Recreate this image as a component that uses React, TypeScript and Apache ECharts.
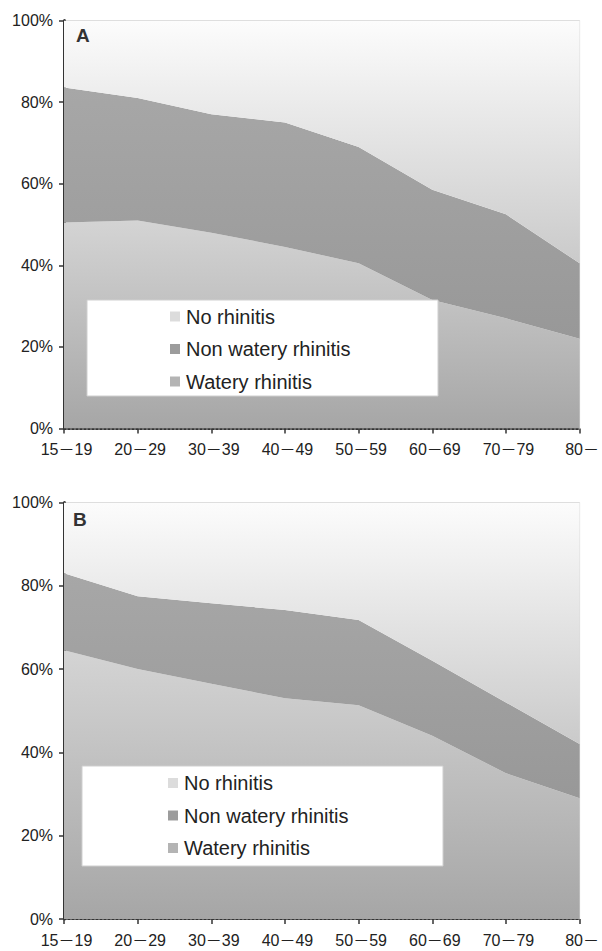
import React, { useEffect, useRef } from "react";
import * as echarts from "echarts";

const categories = ["15－19", "20－29", "30－39", "40－49", "50－59", "60－69", "70－79", "80－"];
const seriesNames = ["No rhinitis", "Non watery rhinitis", "Watery rhinitis"];
const yTicks = [0, 20, 40, 60, 80, 100];

// Chart A (stacked percentages)
const wateryA = [50.5, 51, 48, 44.5, 40.5, 31.5, 27, 22];
const nonWateryA = [33.1, 30, 29, 30.5, 28.5, 27, 25.5, 18.5];
const noRhinitisA = [16.4, 19, 23, 25, 31, 41.5, 47.5, 59.5];

// Chart B (stacked percentages)
const wateryB = [64.5, 60, 56.5, 53, 51.3, 44, 35, 29];
const nonWateryB = [18.5, 17.5, 19.3, 21.2, 20.5, 18, 17, 13];
const noRhinitisB = [17, 22.5, 24.2, 25.8, 28.2, 38, 48, 58];

const FONT = "'Liberation Sans', Arial, 'Noto Sans CJK JP', sans-serif";

const grad = (c1: string, c2: string) =>
  new echarts.graphic.LinearGradient(0, 0, 0, 1, [
    { offset: 0, color: c1 },
    { offset: 1, color: c2 },
  ]);

const fills = {
  "No rhinitis": () => grad("#fcfcfc", "#cacaca"),
  "Non watery rhinitis": () => grad("#a7a7a7", "#989898"),
  "Watery rhinitis": () => grad("#d4d4d4", "#a6a6a6"),
};
const iconColors: Record<string, string> = {
  "No rhinitis": "#dcdcdc",
  "Non watery rhinitis": "#9c9c9c",
  "Watery rhinitis": "#b4b4b4",
};

export default function App() {
  const ref = useRef<HTMLDivElement>(null);
  useEffect(() => {
    if (!ref.current) return;
    const chart = echarts.init(ref.current, undefined, { renderer: "svg" });

    const grids = [
      { left: 64, top: 20.5, width: 521, height: 408 },
      { left: 64, top: 502.5, width: 521, height: 416.5 },
    ];

    const mkX = (gi: number) => ({
      type: "category",
      gridIndex: gi,
      data: categories,
      boundaryGap: false,
      axisLine: { show: true, lineStyle: { color: "#333", width: 2, type: "dotted" } },
      axisTick: { show: true, alignWithLabel: true, length: 5, lineStyle: { color: "#333", width: 1.5 } },
      axisLabel: { color: "#222", fontSize: 16, fontFamily: FONT, margin: 13, interval: 0, padding: [0, 0, 0, 5] },
      splitLine: { show: false },
    });
    const mkY = (gi: number) => ({
      type: "value",
      gridIndex: gi,
      min: yTicks[0],
      max: yTicks[yTicks.length - 1],
      interval: 20,
      axisLine: { show: true, lineStyle: { color: "#333", width: 3 } },
      axisTick: { show: true, length: 5, lineStyle: { color: "#333", width: 1.5 } },
      axisLabel: { color: "#222", fontSize: 16, fontFamily: FONT, margin: 11, formatter: "{value}%" },
      splitLine: { show: false },
    });

    const mkSeries = (gi: number, stack: string, data: number[][]) =>
      seriesNames
        .slice()
        .reverse()
        .map((name, i) => ({
          name,
          type: "line",
          xAxisIndex: gi,
          yAxisIndex: gi,
          stack,
          data: data[i],
          symbol: "none",
          showSymbol: false,
          lineStyle: { width: 0 },
          itemStyle: { color: iconColors[name] },
          areaStyle: { color: (fills as any)[name](), opacity: 1 },
          z: 2,
        }));

    const mkLegend = (left: number, top: number) => ({
      orient: "vertical",
      left,
      top,
      itemWidth: 10,
      itemHeight: 10,
      itemGap: 12.5,
      icon: "rect",
      padding: 0,
      selectedMode: false,
      z: 100,
      textStyle: { color: "#222", fontSize: 20, fontFamily: FONT, padding: [0, 0, 0, 1] },
      data: seriesNames.map((n) => ({ name: n, itemStyle: { color: iconColors[n] } })),
    });

    chart.setOption({
      animation: false,
      backgroundColor: "#ffffff",
      grid: grids.map((g) => ({ ...g, show: true, borderColor: "#d4d4d4", borderWidth: 1, backgroundColor: "transparent" })),
      xAxis: [mkX(0), mkX(1)],
      yAxis: [mkY(0), mkY(1)],
      series: [
        ...mkSeries(0, "A", [wateryA, nonWateryA, noRhinitisA]),
        ...mkSeries(1, "B", [wateryB, nonWateryB, noRhinitisB]),
      ],
      legend: [mkLegend(170, 306.5), mkLegend(168, 773)],
      graphic: [
        { type: "rect", z: 50, shape: { x: 87, y: 300, width: 351, height: 96 }, style: { fill: "#ffffff", stroke: "#cfcfcf", lineWidth: 1 } },
        { type: "rect", z: 50, shape: { x: 82, y: 766, width: 361, height: 100 }, style: { fill: "#ffffff", stroke: "#cfcfcf", lineWidth: 1 } },
        { type: "text", z: 60, x: 76, y: 26, style: { text: "A", fill: "#333", font: `bold 19px ${FONT}` } },
        { type: "text", z: 60, x: 73, y: 510, style: { text: "B", fill: "#333", font: `bold 19px ${FONT}` } },
      ],
    });
    return () => chart.dispose();
  }, []);
  return <div ref={ref} style={{ position: "absolute", left: 0, top: 0, width: 602, height: 951 }} />;
}
